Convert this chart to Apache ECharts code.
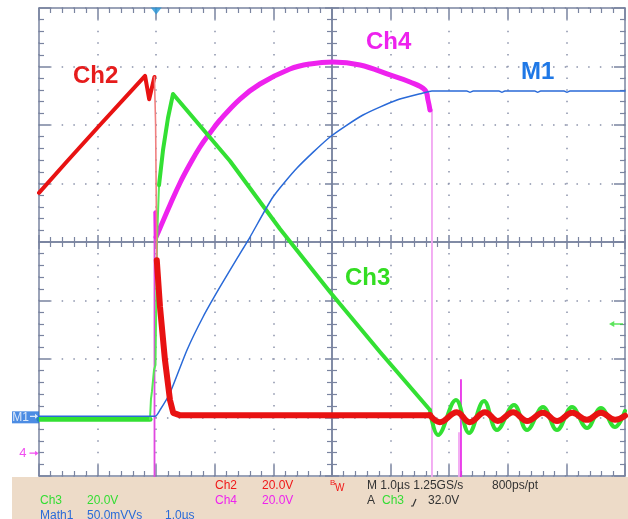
<!DOCTYPE html>
<html><head><meta charset="utf-8">
<script src="https://cdn.jsdelivr.net/npm/echarts@6/dist/echarts.min.js"></script>
<style>html,body{margin:0;padding:0;background:#fff}#c{width:628px;height:519px}</style>
</head><body><div id="c"></div>
<script>
// x: time in µs from the left edge of the screen (1.0 µs/div); y: divisions from screen centre
const xRange = [0, 10];
const yRange = [-4, 4];
const triggerTime = 2.0;
const m1Level = -2.98;
const ch4Level = -3.61;
const ch3TrigLevel = -1.40;

const ch2Ramp = [[0,0.84],[0.48,1.38],[1.04,2.00],[1.81,2.84],[1.88,2.44],[1.97,2.82]];
const ch2Edge = [[1.97,2.82],[1.99,2.0],[2.01,-0.31]];
const ch2Tail = [[2.01,-0.31],[2.065,-1.11],[2.15,-2.02],[2.235,-2.70],[2.29,-2.92],[2.4,-2.96],[6.67,-2.96]];
const ch2Ring = [[6.67,-2.96],[6.84,-3.08],[7.13,-2.91],[7.35,-3.08],[7.61,-2.91],[7.83,-3.06],[8.09,-2.91],[8.33,-3.06],[8.60,-2.92],[8.84,-3.06],[9.10,-2.92],[9.35,-3.04],[9.59,-2.92],[9.83,-3.04],[10,-2.97]];

const ch3Base = [[0,-3.03],[1.894,-3.03]];
const ch3Edge = [[1.894,-3.03],[1.911,-2.68],[1.928,-2.55],[1.962,-2.19],[1.988,-2.10],[2.014,0.03],[2.048,0.97]];
const ch3Ramp = [[2.048,0.97],[2.116,1.57],[2.201,2.12],[2.287,2.53],[2.321,2.56],[3.259,1.385],[4.113,0.222],[4.966,-0.855],[5.819,-1.880],[6.672,-2.872]];
const ch3Ring = [[6.672,-2.872],[6.809,-3.299],[7.116,-2.701],[7.338,-3.265],[7.594,-2.718],[7.816,-3.214],[8.106,-2.786],[8.328,-3.214],[8.601,-2.821],[8.840,-3.214],[9.096,-2.821],[9.352,-3.179],[9.590,-2.838],[9.829,-3.162],[10,-2.889]];

const ch4Stub = [[1.988,0.51],[1.997,0.085]];
const ch4Curve = [[1.997,0.085],[2.065,0.239],[2.235,0.632],[2.406,1.009],[2.577,1.333],[2.747,1.624],[2.918,1.863],[3.089,2.085],[3.430,2.444],[3.771,2.701],[4.283,2.957],[4.625,3.043],[5.017,3.077],[5.478,3.026],[5.990,2.855],[6.331,2.735],[6.587,2.598],[6.638,2.427],[6.672,2.256]];
const ch4Rise = [[1.971,-4.2],[1.971,0.51]];
const ch4Fall = [[6.706,2.256],[6.706,-4.2]];
const ch4GlitchA = [[7.167,-3.265],[7.167,-4.2]];
const ch4GlitchB = [[7.201,-2.359],[7.201,-4.2]];

const m1 = [[0,-2.98],[1.98,-2.98],[2.065,-2.872],[2.235,-2.581],[2.526,-1.846],[2.799,-1.282],[3.089,-0.769],[3.396,-0.256],[3.601,0.085],[3.993,0.769],[4.403,1.265],[4.966,1.795],[5.529,2.171],[6.109,2.427],[6.553,2.547],[6.706,2.581],[7.30,2.581],[7.355,2.56],[7.41,2.581],[7.85,2.581],[7.90,2.56],[7.95,2.581],[8.46,2.581],[8.51,2.56],[8.56,2.581],[8.96,2.581],[9.01,2.56],[9.06,2.581],[10,2.581]];

const GRID = '#7a84a0';
const DOT = '#8a92aa';
const FONT = '"Liberation Sans", Arial, sans-serif';

function trace(name, data, color, width, extra) {
  return Object.assign({
    type: 'line', name: name, data: data, symbol: 'none', showSymbol: false,
    lineStyle: { color: color, width: width, join: 'round', cap: 'round' }, itemStyle: { color: color },
    animation: false, silent: true, xAxisIndex: 0, yAxisIndex: 0
  }, extra || {});
}

function borderX(pos, extra) {
  return Object.assign({
    type: 'value', min: xRange[0], max: xRange[1], interval: 1, position: pos,
    axisLine: { show: true, onZero: false, lineStyle: { color: GRID, width: 1.5 } },
    axisTick: { show: true, inside: true, length: 11, lineStyle: { color: GRID, width: 1.5 } },
    minorTick: { show: true, splitNumber: 5, length: 5, lineStyle: { color: GRID, width: 1.2 } },
    axisLabel: { show: false }, splitLine: { show: false }
  }, extra || {});
}
function borderY(pos, extra) {
  return Object.assign({
    type: 'value', min: yRange[0], max: yRange[1], interval: 1, position: pos,
    axisLine: { show: true, onZero: false, lineStyle: { color: GRID, width: 1.5 } },
    axisTick: { show: true, inside: true, length: 11, lineStyle: { color: GRID, width: 1.5 } },
    minorTick: { show: true, splitNumber: 5, length: 5, lineStyle: { color: GRID, width: 1.2 } },
    axisLabel: { show: false }, splitLine: { show: false }
  }, extra || {});
}
function crossTick(inside) {
  return {
    axisTick: { show: true, inside: inside, length: 7, lineStyle: { color: GRID, width: 1.5 } },
    minorTick: { show: true, splitNumber: 5, length: 5, lineStyle: { color: GRID, width: 1.2 } }
  };
}
const dotted = { show: true, lineStyle: { color: DOT, width: 1.5, type: [1.5, 10.2], dashOffset: 0.75 } };

const chart = echarts.init(document.getElementById('c'), null, { renderer: 'canvas' });
const txt = (x, y, s, color, size, weight) => ({
  type: 'text', left: x, top: y - size / 2 - 1, silent: true,
  style: { text: s, fill: color, font: (weight || 'normal') + ' ' + size + 'px ' + FONT }
});
const arrowRight = 'path://M0,3 L10,3 L10,0 L16,4 L10,8 L10,5 L0,5 Z';
const arrowLeft = 'path://M16,3 L6,3 L6,0 L0,4 L6,8 L6,5 L16,5 Z';

chart.setOption({
  animation: false,
  backgroundColor: '#ffffff',
  grid: { left: 39, right: 3, top: 8, bottom: 43, containLabel: false },
  xAxis: [
    borderX('bottom', { splitLine: dotted }),
    borderX('top'),
    Object.assign(borderX('bottom', { offset: -234 }), crossTick(false)),
    Object.assign(borderX('bottom', { offset: -234 }), crossTick(true))
  ],
  yAxis: [
    borderY('left', { splitLine: dotted }),
    borderY('right'),
    Object.assign(borderY('left', { offset: -293 }), crossTick(false)),
    Object.assign(borderY('left', { offset: -293 }), crossTick(true))
  ],
  series: [
    trace('Ch4', ch4Rise, '#e048e0', 1.8),
    trace('Ch4', ch4Fall, '#f2a6f2', 1.8),
    trace('Ch4', ch4GlitchA, '#f2a6f2', 1.8),
    trace('Ch4', ch4GlitchB, '#e830e8', 1.8),
    trace('Ch4', ch4Stub, '#ee22ee', 4),
    trace('Ch4', ch4Curve, '#ee22ee', 5, { smooth: 0.4 }),
    trace('Ch3', ch3Base, '#33e033', 5),
    trace('Ch3', ch3Edge, '#55e855', 2),
    trace('Ch3', ch3Ramp, '#33e033', 4),
    trace('Ch3', ch3Ring, '#33e033', 4, { smooth: 0.4 }),
    trace('M1', m1, '#2a6ad8', 1.5, { smooth: 0.2 }),
    trace('Ch2', ch2Ramp, '#e81212', 4),
    trace('Ch2', ch2Edge, '#f08080', 1.6),
    trace('Ch2', ch2Tail, '#e81212', 6),
    trace('Ch2', ch2Ring, '#e81212', 6, { smooth: 0.4 }),
    {
      type: 'scatter', name: 'markers', silent: true, animation: false, clip: false, z: 5,
      data: [
        { value: [triggerTime, yRange[1]], symbol: 'path://M0,0 L10,0 L5,6 Z', symbolSize: [11, 7], symbolOffset: [0, 3], itemStyle: { color: '#2596d8' } },
        { value: [xRange[0], m1Level], symbol: 'rect', symbolSize: [27, 12], symbolOffset: [-13.5, 1], itemStyle: { color: '#1f6fdc' },
          label: { show: true, position: 'inside', formatter: 'M1', offset: [-5, 0], color: '#ffffff', fontSize: 12, fontFamily: FONT } },
        { value: [xRange[0], m1Level], symbol: arrowRight, symbolSize: [8, 5], symbolOffset: [-5, 0], itemStyle: { color: '#ffffff' } },
        { value: [xRange[0], ch4Level], symbol: arrowRight, symbolSize: [9, 5], symbolOffset: [-5, 0], itemStyle: { color: '#ee22ee' },
          label: { show: true, position: 'left', distance: 3, formatter: '4', color: '#ee22ee', fontSize: 13, fontFamily: FONT } },
        { value: [xRange[1], ch3TrigLevel], symbol: arrowLeft, symbolSize: [14, 6], symbolOffset: [-9, 0], itemStyle: { color: '#33dd33' } }
      ]
    }
  ],
  graphic: [
    { type: 'rect', left: 12, top: 477, shape: { width: 616, height: 42 }, style: { fill: '#eddbc8' }, silent: true, z: -1 },
    txt(73, 77, 'Ch2', '#e61c1c', 24, 'bold'),
    txt(366, 43, 'Ch4', '#ee22ee', 24, 'bold'),
    txt(521, 73, 'M1', '#1f78e6', 24, 'bold'),
    txt(345, 279, 'Ch3', '#33dd22', 24, 'bold'),
    txt(215, 487, 'Ch2', '#f01818', 12),
    txt(262, 487, '20.0V', '#f01818', 12),
    txt(330, 484, 'B', '#f01818', 8),
    txt(335, 489, 'W', '#f01818', 10),
    txt(367, 487, 'M 1.0µs 1.25GS/s', '#333333', 12),
    txt(492, 487, '800ps/pt', '#333333', 12),
    txt(215, 502, 'Ch4', '#ee22ee', 12),
    txt(262, 502, '20.0V', '#ee22ee', 12),
    txt(367, 502, 'A', '#333333', 12),
    txt(382, 502, 'Ch3', '#33dd33', 12),
    { type: 'polyline', silent: true, shape: { points: [[411, 506], [413, 506], [416, 499]] }, style: { stroke: '#333333', lineWidth: 1.2, fill: null } },
    txt(428, 502, '32.0V', '#333333', 12),
    txt(40, 502, 'Ch3', '#33dd33', 12),
    txt(87, 502, '20.0V', '#33dd33', 12),
    txt(40, 517, 'Math1', '#2a6ad8', 12),
    txt(87, 517, '50.0mVVs', '#2a6ad8', 12),
    txt(165, 517, '1.0µs', '#2a6ad8', 12)
  ]
});
</script></body></html>
